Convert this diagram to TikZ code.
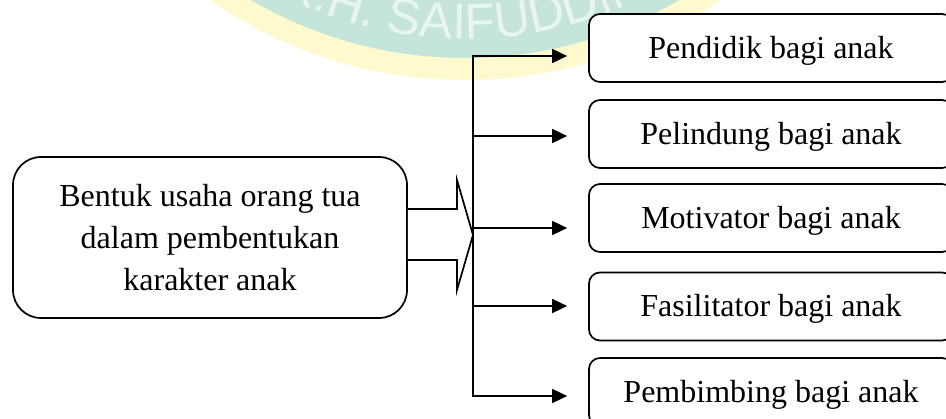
\documentclass[tikz,border=0pt]{standalone}
\usepackage{fontspec}
\setmainfont{Liberation Serif}
\newfontfamily\sealfont{Liberation Sans}
\usetikzlibrary{arrows.meta,calc,decorations.text}
\definecolor{sealgreen}{RGB}{198,229,218}
\definecolor{sealyellow}{RGB}{255,250,205}
\definecolor{sealtext}{RGB}{232,245,240}

\begin{document}
\begin{tikzpicture}[x=1pt,y=-1pt,
  lw/.style={line width=1.7pt},
  srcbox/.style={draw, lw, rounded corners=28pt, fill=white,
    minimum width=394pt, minimum height=161pt, inner sep=0pt,
    align=center, font=\fontsize{32}{42}\selectfont},
  rolebox/.style={draw, lw, rounded corners=11pt, fill=white,
    minimum width=364pt, minimum height=68pt, inner sep=0pt,
    font=\fontsize{32}{38}\selectfont, text height=21pt, text depth=0pt},
  link/.style={lw, -{Triangle[length=15pt,width=14pt]}, shorten >=21pt},
  bigarrow/.style={draw, lw, fill=white, line join=miter}
]
\useasboundingbox (0,0) rectangle (946,419);
\clip (0,0) rectangle (946,419);
\fill[white] (0,0) rectangle (946,419);

% faint seal in the background
\coordinate (sealc) at (465,-366);
\fill[sealyellow] (sealc) circle[radius=446pt];
\fill[sealgreen] (sealc) circle[radius=424pt];
\path[decorate, decoration={text along path, text align=left, text color=sealtext,
    text={|\sealfont\fontsize{50}{50}\selectfont|K.H. SAIFUDDIN}}]
  ($(sealc)+(243:405pt)$) arc[start angle=243, end angle=305, radius=405pt];

% source box
\node[srcbox] (src) at (210,237.5) {Bentuk usaha orang tua\\dalam pembentukan\\karakter anak};

% role boxes
\node[rolebox] (r1) at (771,48)    {Pendidik bagi anak};
\node[rolebox] (r2) at (771,134)   {Pelindung bagi anak};
\node[rolebox] (r3) at (771,218)   {Motivator bagi anak};
\node[rolebox] (r4) at (771,306.5) {Fasilitator bagi anak};
\node[rolebox] (r5) at (771,392)   {Pembimbing bagi anak};

% block arrow from the source box to the trunk
\coordinate (tip) at (473,235);
\coordinate (shu) at (457,209);
\coordinate (shl) at (457,260);
\coordinate (hdu) at (457,180);
\coordinate (hdl) at (457,290);
\draw[bigarrow] (src.east |- shu) -- (shu) -- (hdu) -- (tip) -- (hdl) -- (shl) -- (src.east |- shl);

% trunk and branches
\coordinate (j1) at (473,56);
\coordinate (j2) at (473,136);
\coordinate (j3) at (473,228);
\coordinate (j4) at (473,306);
\coordinate (j5) at (473,396);
\draw[lw, line cap=rect] (j1) -- (j5);
\draw[link] (j1) -- (j1 -| r1.west);
\draw[link] (j2) -- (j2 -| r2.west);
\draw[link] (j3) -- (j3 -| r3.west);
\draw[link] (j4) -- (j4 -| r4.west);
\draw[link] (j5) -- (j5 -| r5.west);
\end{tikzpicture}
\end{document}
